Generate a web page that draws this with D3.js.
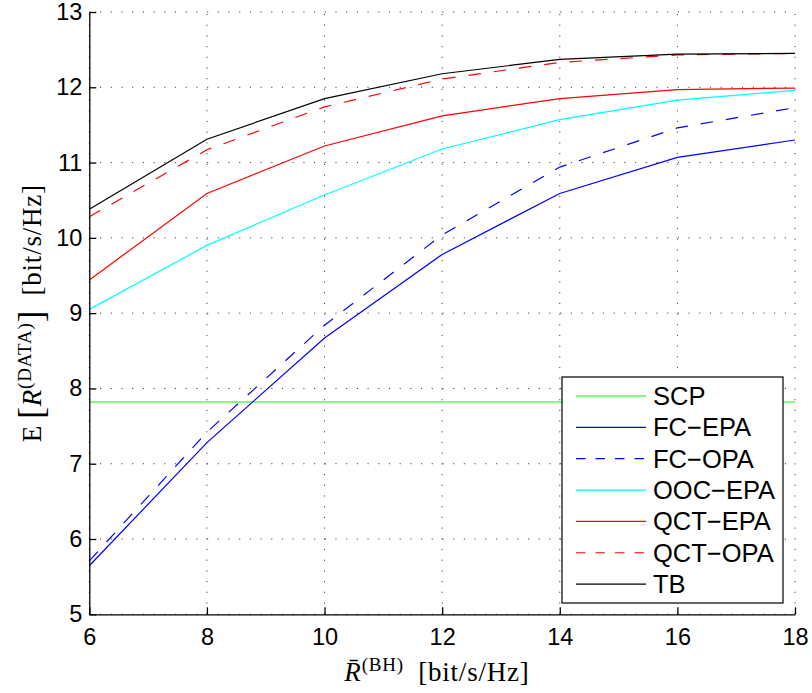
<!DOCTYPE html>
<html>
<head>
<meta charset="utf-8">
<script src="https://cdn.jsdelivr.net/npm/d3@7"></script>
<style>
  html, body { margin: 0; padding: 0; background: #fff; }
  svg { display: block; }
</style>
</head>
<body>
<svg id="chart" width="812" height="693"></svg>
<script>
// Backhaul rate values (x axis)
const rateBH = [6, 8, 10, 12, 14, 16, 18];

// Expected data rate for each scheme
const scp    = [7.82, 7.82, 7.82, 7.82, 7.82, 7.82, 7.82];
const fcEpa  = [5.645, 7.28, 8.67, 9.78, 10.59, 11.07, 11.30];
const fcOpa  = [5.71, 7.42, 8.84, 10.04, 10.94, 11.46, 11.73];
const oocEpa = [9.05, 9.90, 10.57, 11.18, 11.57, 11.83, 11.96];
const qctEpa = [9.44, 10.59, 11.22, 11.62, 11.85, 11.97, 11.99];
const qctOpa = [10.28, 11.17, 11.74, 12.11, 12.33, 12.43, 12.45];
const tb     = [10.38, 11.31, 11.85, 12.18, 12.37, 12.44, 12.45];

const seriesNames = ["SCP", "FC\u2212EPA", "FC\u2212OPA", "OOC\u2212EPA", "QCT\u2212EPA", "QCT\u2212OPA", "TB"];
const seriesValues = [scp, fcEpa, fcOpa, oocEpa, qctEpa, qctOpa, tb];
const seriesColors = ["#00ff00", "#0000ff", "#0000ff", "#00ffff", "#ff0000", "#ff0000", "#000000"];
const seriesDashed = [false, false, true, false, false, true, false];

const xTicks = [6, 8, 10, 12, 14, 16, 18];
const yTicks = [5, 6, 7, 8, 9, 10, 11, 12, 13];

const svg = d3.select("#chart");
const plotLeft = 89.3, plotRight = 795, plotTop = 12, plotBottom = 614.3;

const x = d3.scaleLinear().domain([6, 18]).range([plotLeft, plotRight]);
const y = d3.scaleLinear().domain([5, 13]).range([plotBottom, plotTop]);

// dotted grid at the major ticks
const grid = svg.append("g")
  .attr("stroke", "#444")
  .attr("stroke-width", 1)
  .attr("stroke-dasharray", "1.2,9.5");
grid.selectAll("line.gx").data(xTicks).join("line")
  .attr("x1", d => x(d)).attr("x2", d => x(d))
  .attr("y1", plotBottom).attr("y2", plotTop);
grid.selectAll("line.gy").data(yTicks).join("line")
  .attr("x1", plotLeft).attr("x2", plotRight)
  .attr("y1", d => y(d)).attr("y2", d => y(d));

// curves
const line = d3.line()
  .x((d, i) => x(rateBH[i]))
  .y(d => y(d));

seriesValues.forEach((vals, k) => {
  svg.append("path")
    .datum(vals)
    .attr("fill", "none")
    .attr("stroke", seriesColors[k])
    .attr("stroke-width", 1.2)
    .attr("stroke-dasharray", seriesDashed[k] ? "12.5,13" : null)
    .attr("d", line);
});

// axes with inward ticks
const tickFont = "'Liberation Sans', Arial, sans-serif";
const xAxis = svg.append("g")
  .attr("transform", `translate(0,${plotBottom})`)
  .call(d3.axisBottom(x).tickValues(xTicks).tickSizeInner(-7).tickSizeOuter(0).tickPadding(14));
const yAxis = svg.append("g")
  .attr("transform", `translate(${plotLeft},0)`)
  .call(d3.axisLeft(y).tickValues(yTicks).tickSizeInner(-7).tickSizeOuter(0).tickPadding(7));

[xAxis, yAxis].forEach(g => {
  g.select(".domain").attr("stroke", "#000").attr("stroke-width", 1.3);
  g.selectAll(".tick line").attr("stroke", "#000").attr("stroke-width", 1.3);
  g.selectAll(".tick text")
    .attr("fill", "#000")
    .style("font-family", tickFont)
    .style("font-size", "23.5px");
});

// axis titles
const serif = "'Liberation Serif', 'Times New Roman', serif";

const xl = svg.append("text")
  .attr("x", 437).attr("y", 681)
  .attr("text-anchor", "middle")
  .style("font-family", serif)
  .style("font-size", "27px")
  .style("letter-spacing", "0.8px")
  .attr("fill", "#000");
xl.append("tspan").style("font-style", "italic").text("R\u0304");
xl.append("tspan").attr("dy", -10).style("font-size", "19px").text("(BH)");
xl.append("tspan").attr("dy", 10).text("\u2002[bit/s/Hz]");

const yl = svg.append("text")
  .attr("transform", `translate(41,${(plotTop + plotBottom) / 2}) rotate(-90)`)
  .attr("text-anchor", "middle")
  .style("font-family", serif)
  .style("font-size", "27px")
  .style("letter-spacing", "0.8px")
  .attr("fill", "#000");
yl.append("tspan").text("E\u2009");
yl.append("tspan").style("font-size", "35px").attr("dy", 2).text("[");
yl.append("tspan").attr("dy", -2).style("font-style", "italic").text("R");
yl.append("tspan").attr("dy", -10).style("font-size", "19px").text("(DATA)");
yl.append("tspan").attr("dy", 12).style("font-size", "35px").text("]");
yl.append("tspan").attr("dy", -2).text("\u2002[bit/s/Hz]");

// legend
const lg = svg.append("g");
lg.append("rect")
  .attr("x", 562).attr("y", 377)
  .attr("width", 221).attr("height", 226)
  .attr("fill", "#fff")
  .attr("stroke", "#000")
  .attr("stroke-width", 1.2);

seriesNames.forEach((name, k) => {
  const cy = 396 + k * 31.35;
  lg.append("line")
    .attr("x1", 576).attr("x2", 646)
    .attr("y1", cy).attr("y2", cy)
    .attr("stroke", seriesColors[k])
    .attr("stroke-width", 1.2)
    .attr("stroke-dasharray", seriesDashed[k] ? "9.5,10" : null);
  lg.append("text")
    .attr("x", 653).attr("y", cy + 9)
    .style("font-family", tickFont)
    .style("font-size", "25.5px")
    .attr("fill", "#000")
    .text(name);
});
</script>
</body>
</html>
